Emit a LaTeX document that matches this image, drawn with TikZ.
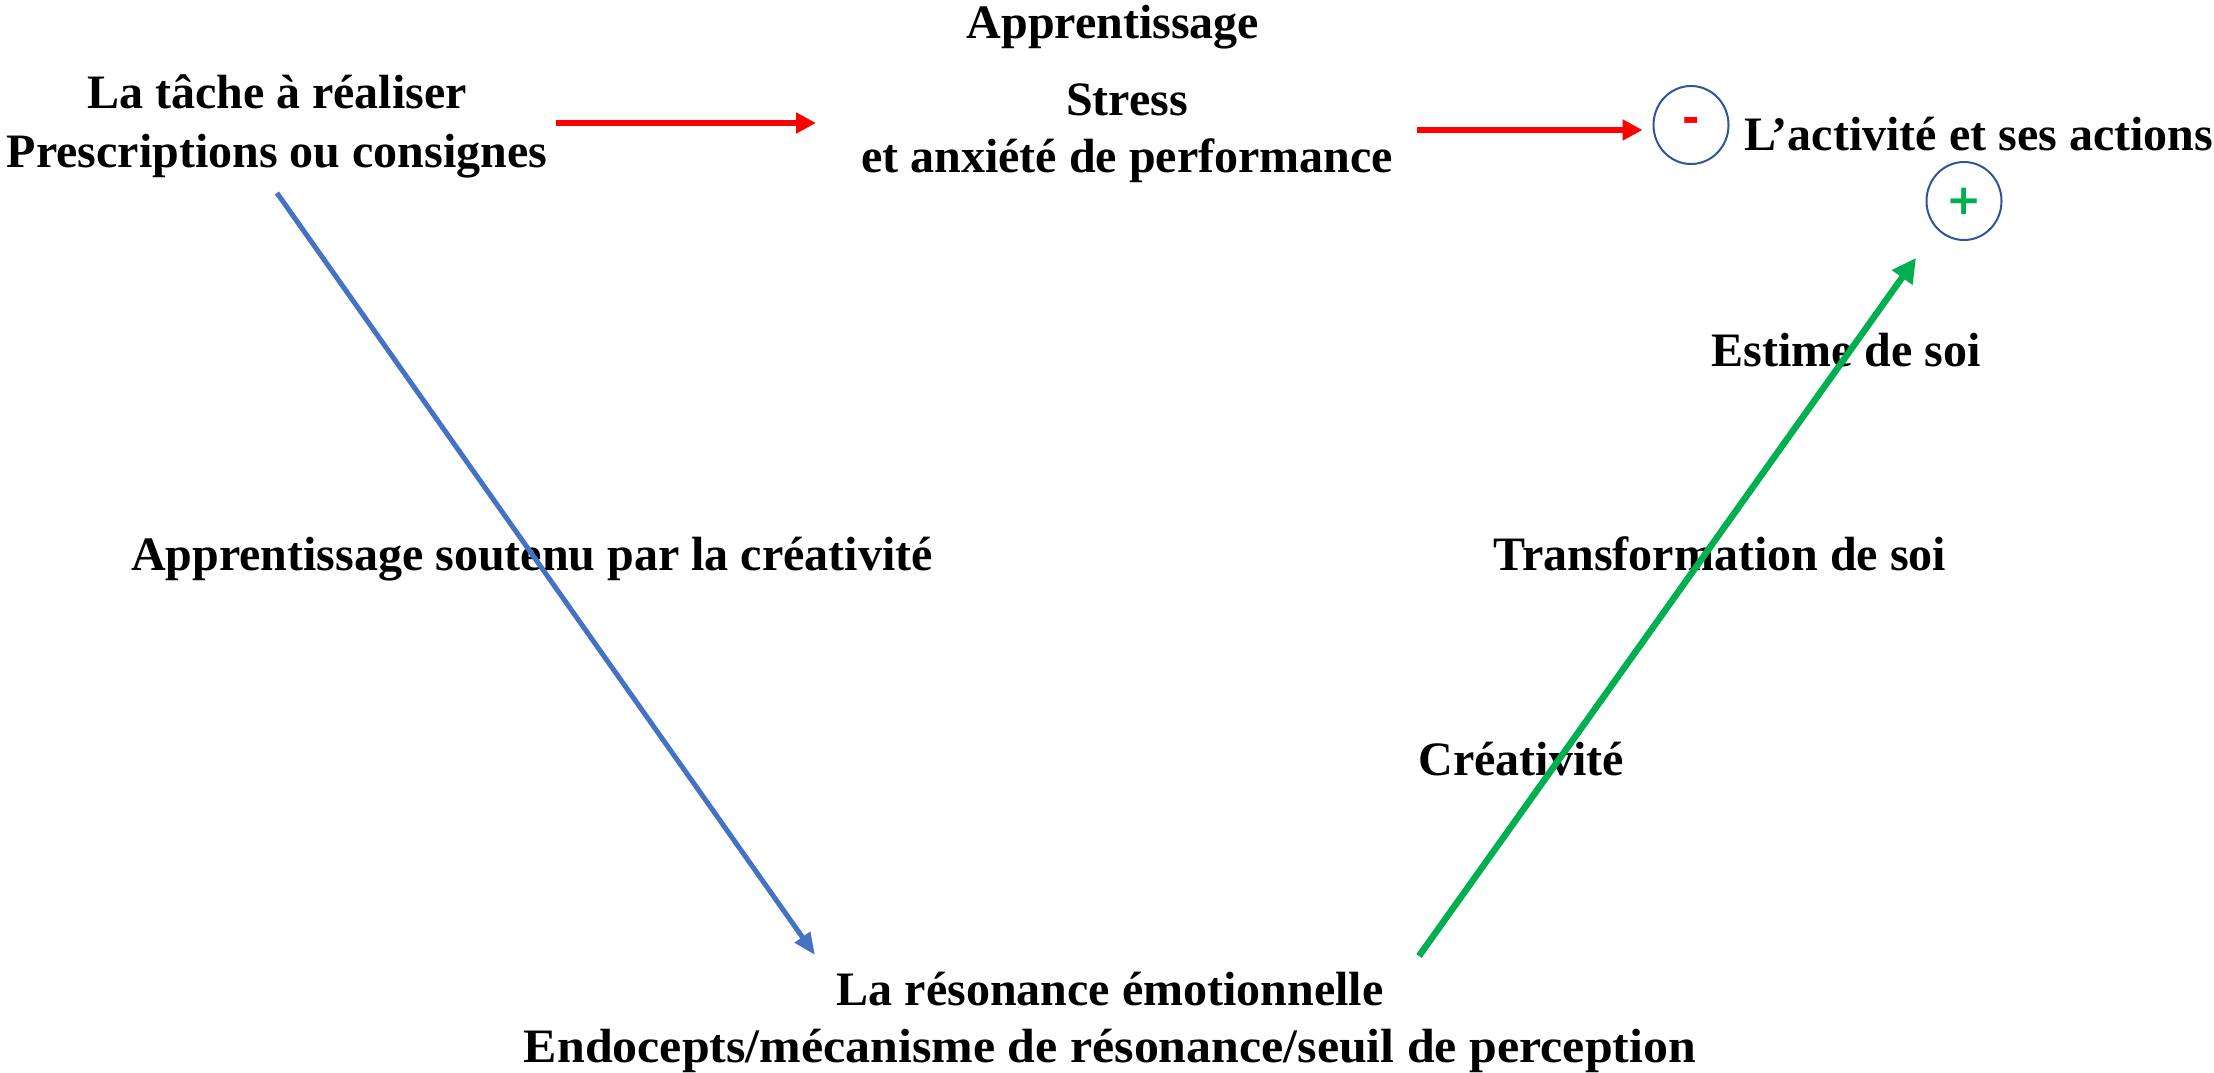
\documentclass[tikz,border=0pt]{standalone}
\usepackage{fontspec}
\setmainfont{Liberation Serif}
\newfontfamily\signfont{DejaVu Sans}
\usetikzlibrary{arrows.meta,shapes.geometric}
\definecolor{cred}{RGB}{255,0,0}
\definecolor{cblue}{RGB}{68,114,196}
\definecolor{cgreen}{RGB}{0,176,80}
\definecolor{cring}{RGB}{47,85,151}
\begin{document}
\begin{tikzpicture}[x=1pt,y=-1pt,
  lbl/.style={font=\fontsize{48}{59}\selectfont\bfseries, inner sep=0pt, anchor=base},
  ring/.style={draw=cring, line width=2pt, ellipse, minimum width=75pt, minimum height=78pt, inner sep=0pt,
    font=\fontsize{42}{42}\signfont\bfseries},
  redarr/.style={draw=cred, line width=6pt, -{Triangle[length=20pt,width=20pt]}},
  bluearr/.style={draw=cblue, line width=5pt, -{Triangle[length=22pt,width=18pt]}},
  greenarr/.style={draw=cgreen, line width=6.5pt, -{Triangle[length=24pt,width=24pt]}}
]
\useasboundingbox (0,0) rectangle (2214,1072);

\node[lbl] (app) at (1113,38) {Apprentissage};
\node[lbl] (tache1) at (277,108) {La tâche à réaliser};
\node[lbl] (tache2) at (277,167) {Prescriptions ou consignes};
\node[lbl] (stress1) at (1127,115) {Stress};
\node[lbl] (stress2) at (1127,172) {et anxiété de performance};
\node[lbl, anchor=base west] (act) at (1744,150) {L’activité et ses actions};
\node[ring, text=cred] (minus) at (1691,125) {-};
\node[ring, text=cgreen] (plus) at (1964,201) {+};
\node[lbl] (estime) at (1846,366) {Estime de soi};
\node[lbl] (transfo) at (1720,570) {Transformation de soi};
\node[lbl] (appsout) at (532,570) {Apprentissage soutenu par la créativité};
\node[lbl] (crea) at (1521,775) {Créativité};
\node[lbl] (reso1) at (1110,1005) {La résonance émotionnelle};
\node[lbl, xscale=1.04] (reso2) at (1110,1062) {Endocepts/mécanisme de résonance/seuil de perception};

\coordinate (r1s) at (556,123);
\coordinate (r1e) at (816,123);
\coordinate (r2s) at (1417,130);
\coordinate (bs) at (277,193);
\coordinate (be) at (815,955);
\coordinate (gs) at (1419,956);
\coordinate (ge) at (1916,258);

\draw[redarr] (r1s) -- (r1e);
\draw[redarr] (r2s) -- ([xshift=-10pt]r2s -| minus.west);
\draw[bluearr] (bs) -- (be);
\draw[greenarr] (gs) -- (ge);
\end{tikzpicture}
\end{document}
